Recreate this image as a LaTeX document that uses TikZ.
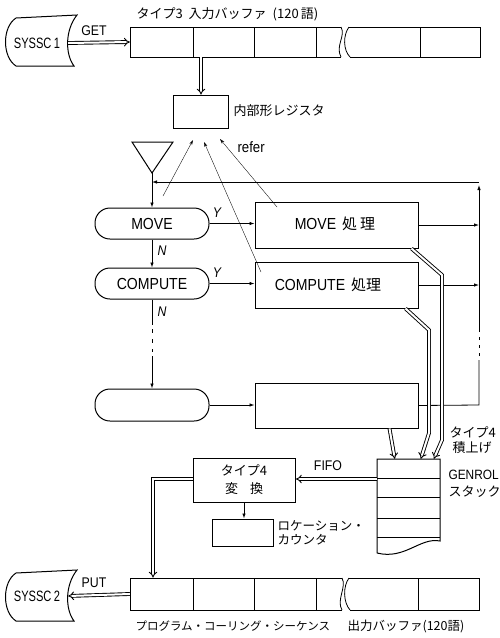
\documentclass[tikz,border=0pt]{standalone}
\usepackage{fontspec}
\setmainfont[FakeStretch=0.88]{Liberation Sans}
\newfontfamily\narrowf[FakeStretch=0.74]{Liberation Sans}
\newfontfamily\jp{Noto Sans CJK JP}
\usetikzlibrary{arrows.meta,calc}
\begin{document}
\begin{tikzpicture}[x=1pt,y=-1pt,
  bline/.style={line width=1pt},
  boxn/.style={draw,line width=1pt,inner sep=0pt},
  decn/.style={draw,line width=1pt,inner sep=0pt,rounded corners=15pt,minimum width=114,minimum height=31},
  procn/.style={draw,line width=1pt,inner sep=0pt,minimum width=163,minimum height=46},
  ghost/.style={inner sep=0pt},
  arr/.style={line width=0.8pt,-{Latex[length=5pt,width=3.5pt]}},
  plain/.style={line width=0.8pt},
  hollow/.style={double,double distance=2pt,line width=0.9pt,-{Implies}},
  refl/.style={line width=0.35pt,-{Stealth[length=5pt,width=3pt]}},
  lat/.style={font=\fontsize{16}{18}\selectfont},
  lats/.style={font=\fontsize{14}{16}\selectfont},
  ynl/.style={font=\itshape\fontsize{14}{16}\selectfont},
  jpl/.style={font=\jp\fontsize{13}{15}\selectfont},
  sysl/.style={font=\narrowf\fontsize{15}{17}\selectfont}
]
\useasboundingbox (0,0) rectangle (500,638);

% ---------- SYSSC 1 ----------
\draw[bline] (16,18) -- (77,15) .. controls (65,30) and (65,54) .. (74,66) -- (16,66) .. controls (2,57) and (2,27) .. (16,18) -- cycle;
\node[ghost,sysl,minimum width=62] (sys1) at (37,43) {SYSSC\,1};

% ---------- input buffer ----------
\node[ghost,minimum width=63,minimum height=30] (ib1) at (161.5,42) {};
\node[ghost,minimum width=61,minimum height=30] (ib2) at (223.5,42) {};
\draw[bline] (341,27) -- (130,27) -- (130,57) -- (341,57);
\draw[bline] (349,27) -- (480,27) -- (480,57) -- (350,57);
\foreach \x in {193,254,316,420} \draw[line width=0.8pt] (\x,27) -- (\x,57);
\draw[line width=0.8pt] (341,27) .. controls (346,36) and (335,46) .. (341,57);
\draw[line width=0.8pt] (349,27) .. controls (343,35) and (343,50) .. (350,57);
\node[jpl,anchor=west] (ibt) at (133,14) {タイプ3\hspace{6pt}入力バッファ\hspace{6pt}(120\,語)};
\draw[hollow] (sys1.east) -- (ib1.west);
\node[lats] (get) at (94,31) {GET};

% ---------- register ----------
\node[boxn,minimum width=55,minimum height=33] (reg) at (201,111.5) {};
\node[jpl,anchor=west] (regl) at (230,111) {内部形レジスタ};
\draw[hollow] (reg.north |- ib2.south) -- (reg.north);

% ---------- flow column ----------
\draw[line width=1pt] (132,142) -- (173,142) -- (152,173) -- cycle;
\coordinate (tri) at (152,173);
\node[decn,lat] (mv) at (152,223.5) {MOVE};
\node[decn,lat] (cp) at (152,283.5) {COMPUTE};
\node[decn,minimum height=32] (d3) at (152,405) {};
\draw[arr] (tri) -- (mv.north);
\draw[arr] (mv.south) -- (cp.north);
\node[ynl] (n1) at (162,251) {N};
\draw[plain] (cp.south) -- (152,325);
\draw[plain,dash pattern=on 4pt off 6pt] (152,329) -- (152,352);
\draw[arr] (152,356) -- (d3.north);
\node[ynl] (n2) at (162,312) {N};

% ---------- process boxes ----------
\node[procn] (mvp) at (336.5,225) {};
\node[lat] (mvpl) at (335,224) {MOVE\hspace{6pt}{\jp\fontsize{15}{15}\selectfont 処\hspace{3pt}理}};
\node[procn] (cpp) at (336.5,285) {};
\node[lat] (cppl) at (328,285) {COMPUTE\hspace{6pt}{\jp\fontsize{15}{15}\selectfont 処理}};
\node[procn,minimum height=45] (b3) at (336.5,405.5) {};
\draw[arr] (mv.east) -- (mv.east -| mvp.west);
\node[ynl] (y1) at (217,213) {Y};
\draw[arr] (cp.east) -- (cp.east -| cpp.west);
\node[ynl] (y2) at (217,273) {Y};
\draw[arr] (d3.east) -- (d3.east -| b3.west);

% ---------- feedback loop ----------
\coordinate (rvB) at (479,405);
\coordinate (fbR) at (479,182);
\coordinate (fbL) at (152,182);
\draw[arr] (mvp.east) -- (mvp.east -| rvB);
\draw[arr] (cpp.east) -- (cpp.east -| rvB);
\draw[plain] (b3.east) -- (rvB) -- (479,360);
\draw[plain,dash pattern=on 3pt off 5pt] (479,356) -- (479,331);
\draw[arr] (479,331) -- (479,185);
\draw[arr] (fbR) -- (fbL);

% ---------- refer arrows ----------
\coordinate (rf1s) at (163,196);
\coordinate (rf1e) at (193,140);
\coordinate (rf2s) at (261,272);
\coordinate (rf2e) at (204,142);
\coordinate (rf3s) at (277,207);
\coordinate (rf3e) at (220,139);
\draw[refl] (rf1s) -- (rf1e);
\draw[refl] (rf2s) -- (rf2e);
\draw[refl] (rf3s) -- (rf3e);
\node[font=\fontsize{15}{17}\selectfont,anchor=west] (refer) at (234,147) {refer};

% ---------- GENROL stack ----------
\node[ghost,minimum width=63,minimum height=82] (stk) at (408.5,500) {};
\draw[bline] (377,553) -- (377,459) -- (440,459) -- (440,541) .. controls (420,537) and (405,560) .. (377,553);
\foreach \y in {478,497,518,537} \draw[line width=0.8pt] (377,\y) -- (440,\y);
\node[jpl,anchor=west] (t4a) at (446,432) {タイプ4};
\node[jpl,anchor=west] (t4b) at (449,448) {積上げ};
\node[font=\fontsize{13.5}{16}\selectfont,anchor=west] (gen) at (445,475) {GENROL};
\node[jpl,anchor=west] (stl) at (445,492) {スタック};

% hollow arrows into the stack
\draw[hollow] ($(mvp.south east)+(-7,0)$) -- (442,275) -- (442,440) -- ($(stk.north west)+(57,0)$);
\draw[hollow] ($(cpp.south east)+(-13,0)$) -- (429,330) -- (429,433) -- ($(stk.north west)+(44,0)$);
\draw[hollow] ($(b3.south west)+(135,0)$) -- ($(stk.north west)+(18,0)$);

% ---------- type4 conversion ----------
\node[boxn,minimum width=102,minimum height=44,align=center,font=\jp\fontsize{13}{18}\selectfont] (t4) at (244,480) {タイプ4\\変\hspace{12pt}換};
\node[boxn,minimum width=61,minimum height=27] (lc) at (242.5,532.5) {};
\node[anchor=west,align=left,font=\jp\fontsize{12.5}{14}\selectfont] (lcl) at (274,533) {ロケーション・\\カウンタ};
\coordinate (fifoS) at (376.5,479);
\coordinate (fifoE) at (296,479);
\draw[hollow] (fifoS) -- (fifoE);
\node[lats] (fifo) at (328,466) {FIFO};
\draw[arr] (t4.south) -- (t4.south |- lc.north);

% ---------- output buffer ----------
\node[ghost,minimum width=63,minimum height=32] (ob1) at (161.5,594) {};
\draw[bline] (342,578) -- (130,578) -- (130,610) -- (342,610);
\draw[bline] (349,578) -- (479,578) -- (479,610) -- (350,610);
\foreach \x in {193,254,316,418} \draw[line width=0.8pt] (\x,578) -- (\x,610);
\draw[line width=0.8pt] (342,578) .. controls (347,587) and (336,600) .. (342,610);
\draw[line width=0.8pt] (349,578) .. controls (343,586) and (343,602) .. (350,610);
\coordinate (t4L) at (192.5,479);
\coordinate (obK) at (153,479);
\coordinate (obT) at (153,577.5);
\draw[hollow] (t4L) -- (obK) -- (obT);

% ---------- SYSSC 2 ----------
\draw[bline] (16,573) -- (77,570) .. controls (65,585) and (65,609) .. (74,621) -- (16,621) .. controls (2,612) and (2,582) .. (16,573) -- cycle;
\node[ghost,sysl,minimum width=62] (sys2) at (37,596) {SYSSC\,2};
\draw[hollow] (ob1.west) -- (sys2.east);
\node[lats] (put) at (94,583) {PUT};

\node[anchor=west,font=\jp\fontsize{11.5}{13}\selectfont] (cap1) at (132,626) {プログラム・コーリング・シーケンス};
\node[anchor=west,font=\jp\fontsize{12.5}{14}\selectfont] (cap2) at (344,626) {出力バッファ(120語)};
\end{tikzpicture}
\end{document}
